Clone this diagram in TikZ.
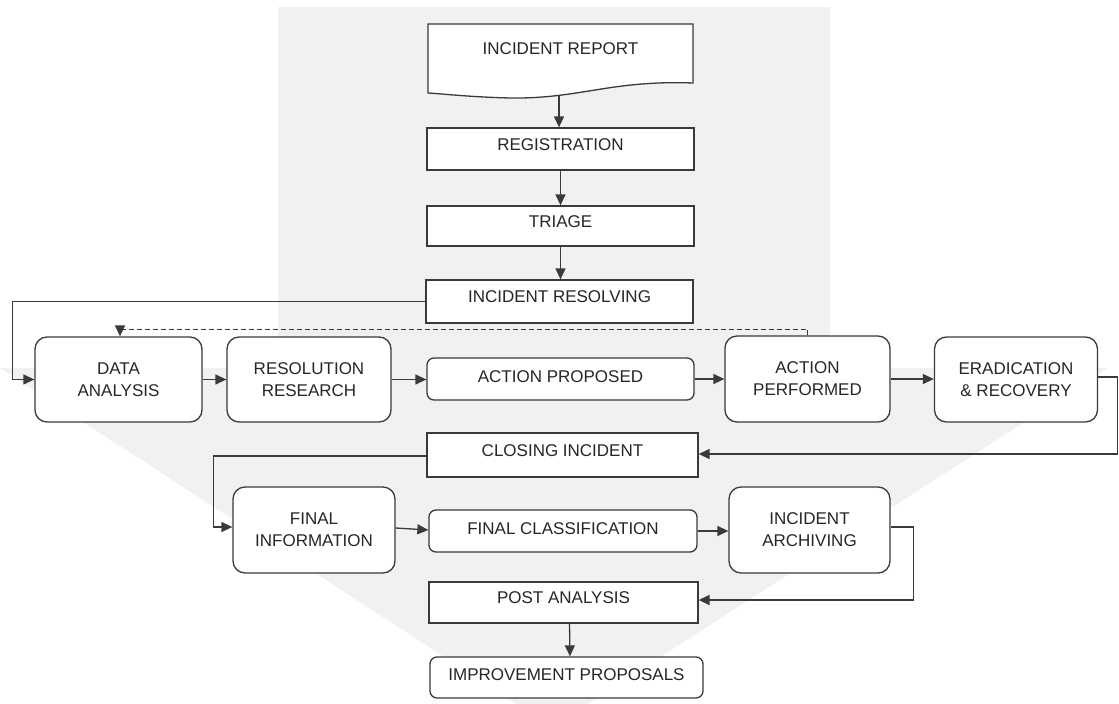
\documentclass[tikz,border=0pt]{standalone}
\usepackage{fontspec}
\setmainfont{Liberation Sans}
\usetikzlibrary{arrows.meta}
\definecolor{bgfill}{RGB}{241,241,241}
\definecolor{ink}{RGB}{58,58,58}
\definecolor{txt}{RGB}{38,38,38}

\begin{document}
\begin{tikzpicture}[x=1pt,y=-1pt,
  every node/.style={font=\fontsize{17}{22}\selectfont, text=txt},
  base/.style={draw=ink, line width=1.3pt, fill=white, inner sep=0pt},
  rectbox/.style={base, rectangle, text height=12.2pt, text depth=10pt},
  pill/.style={base, rounded corners=7pt, text height=12.2pt, text depth=6pt},
  roundbox/.style={base, rounded corners=12pt, align=center},
  link/.style={draw=ink, line width=1.3pt, -{Triangle[length=11pt,width=10pt]}},
  backlink/.style={link, dash pattern=on 5pt off 3pt},
]
% page frame
\path[use as bounding box] (0,0) rectangle (1119,704);

% grey backdrop: upper panel and funnel
\begin{scope}
  \clip (0,0) rectangle (1119,704);
  \fill[bgfill] (278,7) -- (830,7) -- (830,368) -- (1108,368) -- (552,727)
    -- (0,368) -- (278,368) -- cycle;
\end{scope}

% document shape
\draw[ink, line width=1.3pt, fill=white] (428,24) -- (693,24) -- (693,83)
  .. controls (610,80) and (580,99) .. (510,98)
  .. controls (470,97) and (445,94) .. (428,93) -- cycle;
\node (report) at (560.5,48) [text height=12.2pt, text depth=0pt, inner sep=0pt] {INCIDENT REPORT};
\coordinate (reportfoot) at (559,96);

% main column
\node[rectbox, minimum width=267pt, minimum height=42pt] (reg) at (560.5,149) {REGISTRATION};
\node[rectbox, minimum width=267pt, minimum height=40pt] (triage) at (560.5,226) {TRIAGE};
\node[rectbox, minimum width=267pt, minimum height=43pt] (resolving) at (559.5,301.5) {INCIDENT RESOLVING};

% resolving row
\node[roundbox, minimum width=167pt, minimum height=85pt] (data) at (118.5,379.5) {DATA\\ANALYSIS};
\node[roundbox, minimum width=164pt, minimum height=85pt] (research) at (309,379.5) {RESOLUTION\\RESEARCH};
\node[pill, minimum width=267pt, minimum height=42pt] (proposed) at (560.5,379) {ACTION PROPOSED};
\node[roundbox, minimum width=165pt, minimum height=86pt] (performed) at (807.5,379) {ACTION\\PERFORMED};
\node[roundbox, minimum width=163pt, minimum height=85pt] (eradication) at (1016,379.5) {ERADICATION\\\& RECOVERY};

% closing
\node[rectbox, minimum width=271pt, minimum height=44pt] (closing) at (562.5,455) {CLOSING INCIDENT};

% closing row
\node[roundbox, minimum width=162pt, minimum height=86pt] (finalinfo) at (314,530) {FINAL\\INFORMATION};
\node[pill, minimum width=268pt, minimum height=42pt] (finalclass) at (563,531) {FINAL CLASSIFICATION};
\node[roundbox, minimum width=161pt, minimum height=86pt] (archiving) at (809.5,530) {INCIDENT\\ARCHIVING};

% post-incident
\node[rectbox, minimum width=269pt, minimum height=41pt] (post) at (563.5,602.5) {POST ANALYSIS};
\node[pill, minimum width=273pt, minimum height=41pt] (improve) at (566.5,677.5) {IMPROVEMENT PROPOSALS};

% connectors
\draw[link] (reportfoot) -- (reportfoot |- reg.north);
\draw[link] (reg) -- (triage);
\draw[link] (triage) -- (triage.south |- resolving.north);
\draw[link] (resolving.west) -- ++(-413,0) |- (data.west);
\draw[link] (data) -- (research);
\draw[link] (research.east) -- (research.east -| proposed.west);
\draw[link] (proposed) -- (performed);
\draw[link] (performed.east) -- (performed.east -| eradication.west);
\draw[backlink] (performed.north) -- ++(0,-6) -| ([xshift=1.5pt]data.north);
\draw[link] ([yshift=2.5pt]eradication.east) -- ++(19,0) |- ([yshift=1pt]closing.east);
\draw[link] ([yshift=-1pt]closing.west) -- ++(-213,0) |- ([yshift=3pt]finalinfo.west);
\draw[link] ([yshift=2pt]finalinfo.east) -- ([yshift=1pt]finalclass.west);
\draw[link] (finalclass.east) -- (finalclass.east -| archiving.west);
\draw[link] ([yshift=3pt]archiving.east) -- ++(23,0) |- ([yshift=2.5pt]post.east);
\draw[link] ([xshift=6pt]post.south) -- ([xshift=3.5pt]improve.north);
\end{tikzpicture}
\end{document}
